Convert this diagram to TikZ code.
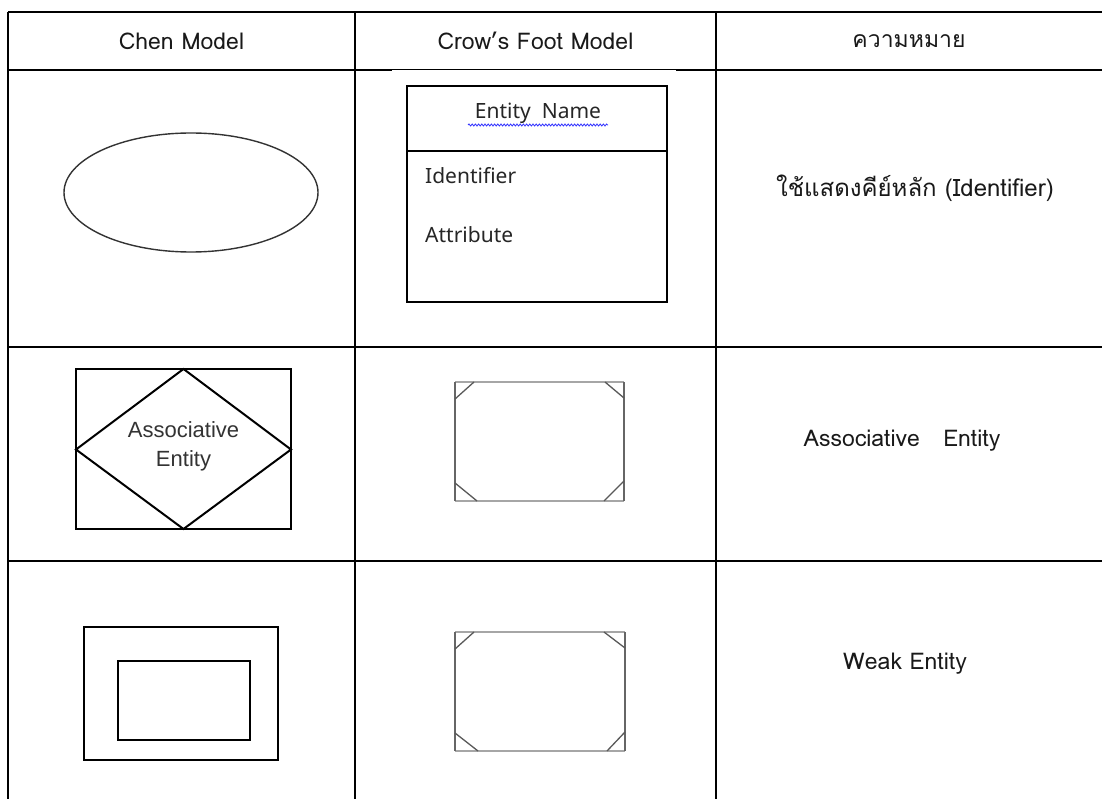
\documentclass[tikz,border=0pt]{standalone}
\usepackage{fontspec}
\usetikzlibrary{decorations.pathmorphing,shapes.geometric}
\newfontfamily\thaifont[Script=Thai]{Loma}
\newfontfamily\boxfont{Noto Sans}
\newfontfamily\arialfont{Liberation Sans}
\tikzset{
  grid/.style={line width=2.4pt, black},
  gridthin/.style={line width=1.2pt, black},
  celltext/.style={font=\thaifont\fontsize{23}{26}\selectfont, inner sep=0pt, text=black!90},
  entbox/.style={line width=1.4pt, black},
  attrtext/.style={font=\boxfont\fontsize{21}{25}\selectfont, inner sep=0pt, anchor=west, text=black!85},
  chenline/.style={line width=2pt, black},
  cfside/.style={line width=1.6pt, black!60},
  cfedge/.style={line width=2.6pt, black!35},
  cfcorner/.style={line width=1.3pt, black!65},
}
\begin{document}
\begin{tikzpicture}[x=1pt,y=-1pt]
\useasboundingbox (0,0) rectangle (1102,799);
\fill[white] (0,0) rectangle (1102,799);

% table rules
\draw[grid] (8,12) -- (1102,12);
\draw[grid] (8,70) -- (392,70);
\draw[gridthin] (392,69.5) -- (676,69.5);
\draw[grid] (676,70) -- (1102,70);
\draw[grid] (8,347) -- (1102,347);
\draw[grid] (8,561) -- (1102,561);
\draw[grid] (8,12) -- (8,799);
\draw[grid] (355,12) -- (355,799);
\draw[grid] (716,12) -- (716,799);

% header row
\node[celltext] (h1) at (181.5,41) {Chen Model};
\node[celltext] (h2) at (535.5,41) {Crow’s Foot Model};
\node[celltext] (h3) at (909,41) {ความหมาย};

% row 1: identifier
\node[draw=black!80, line width=1.4pt, ellipse, minimum width=254pt, minimum height=119pt, inner sep=0pt] (idell) at (191,192.5) {};
\draw[entbox] (407,86) rectangle (667,302);
\draw[entbox] (407,151) -- (667,151);
\node[font=\boxfont\fontsize{21}{25}\selectfont, inner sep=0pt, text=black!85] (entname) at (538,113) {Entity\ \ Name};
\coordinate (wavyA) at (468,125);
\coordinate (wavyB) at (608,125);
\draw[blue!80, line width=0.8pt, decorate, decoration={snake, amplitude=1pt, segment length=3.2pt}] (wavyA) -- (wavyB);
\node[attrtext] (ident) at (425,176) {Identifier};
\node[attrtext] (attr) at (425,235) {Attribute};
\node[celltext, font=\thaifont\fontsize{24}{28}\selectfont] (m1) at (915,188) {ใช้แสดงคีย์หลัก (Identifier)};

% row 2: associative entity
\draw[chenline] (76,369) rectangle (291,529);
\draw[chenline] (183.5,369) -- (291,449.5) -- (183.5,529) -- (76,449.5) -- cycle;
\node[font=\arialfont\fontsize{22}{29}\selectfont, align=center, inner sep=0pt, text=black!80] (assoc) at (183.5,446.5) {Associative\\Entity};
\draw[cfedge] (455,382) -- (624,382);
\draw[cfedge] (455,501) -- (624,501);
\draw[cfside] (455,382) -- (455,501);
\draw[cfside] (624,382) -- (624,501);
\draw[cfcorner] (455,399) -- (474,382);
\draw[cfcorner] (605,382) -- (624,398);
\draw[cfcorner] (455,483) -- (477,501);
\draw[cfcorner] (604,501) -- (624,481);
\node[celltext] (m2) at (902,441) {Associative\ \ \ Entity};

% row 3: weak entity
\draw[entbox] (84,627) rectangle (278,760);
\draw[entbox] (118,661) rectangle (250,740);
\draw[cfedge] (455,632) -- (625,632);
\draw[cfedge] (455,751) -- (625,751);
\draw[cfside] (455,632) -- (455,751);
\draw[cfside] (625,632) -- (625,751);
\draw[cfcorner] (455,649) -- (474,632);
\draw[cfcorner] (604,632) -- (625,648);
\draw[cfcorner] (455,733) -- (478,751);
\draw[cfcorner] (607,751) -- (625,732);
\node[celltext] (m3) at (905,664) {Weak Entity};
\end{tikzpicture}
\end{document}
